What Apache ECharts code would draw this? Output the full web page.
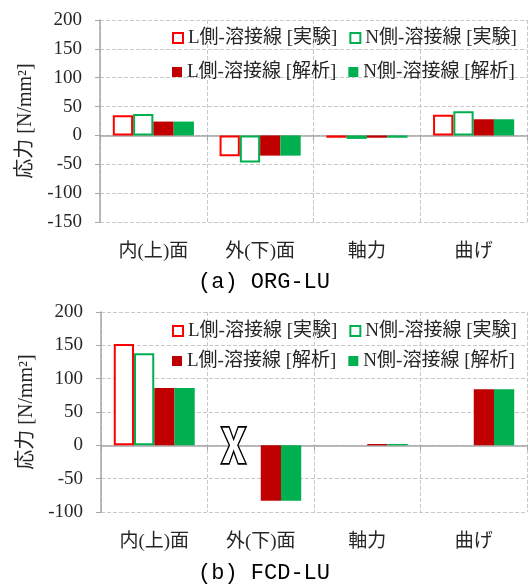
<!DOCTYPE html>
<html><head><meta charset="utf-8">
<script src="https://cdn.jsdelivr.net/npm/echarts@6/dist/echarts.min.js"></script>
<style>html,body{margin:0;padding:0;background:#fff}#main{width:528px;height:585px}</style>
</head><body><div id="main"></div>
<script>
const categories = ['内(上)面', '外(下)面', '軸力', '曲げ'];
const seriesNames = ['L側-溶接線 [実験]', 'N側-溶接線 [実験]', 'L側-溶接線 [解析]', 'N側-溶接線 [解析]'];
// (a) ORG-LU
const orgLExp = [35, -36, -4, 36];
const orgNExp = [37, -47, -6, 42];
const orgLAna = [24, -35, -4, 28];
const orgNAna = [24, -35, -4, 28];
// (b) FCD-LU
const fcdLExp = [152, null, null, null];
const fcdNExp = [138, null, null, null];
const fcdLAna = [86, -83, 2, 84];
const fcdNAna = [86, -83, 2, 84];
// 外(下)面 experimental value missing (X mark)
const fcdMissingCategory = '外(下)面';
const yTicksA = { min: -150, max: 200, interval: 50 };
const yTicksB = { min: -100, max: 200, interval: 50 };
const subtitles = ['(a) ORG-LU', '(b) FCD-LU'];
const yName = '応力 [N/mm²]';

const FONT = "'Liberation Serif', 'Noto Sans CJK JP', serif";
const TXT = '#262626';
const AXIS = '#a6a6a6';
const GRIDC = '#c8c8c8';
const RED = '#ff0000', GREEN = '#00b050', DRED = '#c00000';

const styles = [
  { color: '#ffffff', borderColor: RED, borderWidth: 2 },
  { color: '#ffffff', borderColor: GREEN, borderWidth: 2 },
  { color: DRED },
  { color: GREEN }
];

function legend(names, idxs, top) {
  return {
    left: 172, top: top, padding: 0, itemGap: 12, itemWidth: 10, itemHeight: 10,
    icon: 'rect', selectedMode: false,
    textStyle: { fontFamily: FONT, fontSize: 19, color: TXT, lineHeight: 20 },
    data: idxs.map(i => ({ name: names[i], itemStyle: i < 2 ? { color: '#fff', borderColor: styles[i].borderColor, borderWidth: 2 } : { color: styles[i].color } }))
  };
}

const grids = [
  { left: 100, top: 20, width: 427, height: 202 },
  { left: 101, top: 312, width: 426, height: 200 }
];

function xAxes(gi) {
  return [
    { type: 'category', data: categories, gridIndex: gi, position: 'bottom',
      axisLine: { show: true, onZero: true, lineStyle: { color: AXIS, width: 1.5 } },
      axisTick: { show: true, length: 5, lineStyle: { color: AXIS } },
      axisLabel: { show: false },
      splitLine: { show: true, lineStyle: { color: GRIDC, type: [4, 2], width: 1 } } },
    { type: 'category', data: categories, gridIndex: gi, position: 'bottom',
      axisLine: { show: false, onZero: false }, axisTick: { show: false },
      splitLine: { show: false },
      axisLabel: { fontFamily: FONT, fontSize: 19, color: TXT, margin: 21 } }
  ];
}
function yAxis(gi, t) {
  return { type: 'value', gridIndex: gi, min: t.min, max: t.max, interval: t.interval,
    name: yName, nameLocation: 'middle', nameGap: 64,
    nameTextStyle: { fontFamily: FONT, fontSize: 20, color: TXT },
    axisLine: { show: true, lineStyle: { color: AXIS, width: 1.5 } },
    axisTick: { show: true, length: 5, lineStyle: { color: AXIS } },
    axisLabel: { fontFamily: FONT, fontSize: 19, color: TXT, margin: 18 },
    splitLine: { show: true, lineStyle: { color: GRIDC, type: [4, 2], width: 1 } } };
}

function barSeries(gi, xi, datas) {
  return datas.map((d, i) => ({
    type: 'bar', name: seriesNames[i], xAxisIndex: xi, yAxisIndex: gi, data: d,
    barGap: '0%', barCategoryGap: '24%', itemStyle: styles[i], emphasis: { disabled: true },
    animation: false
  }));
}

const sA = barSeries(0, 0, [orgLExp, orgNExp, orgLAna, orgNAna]);
const sB = barSeries(1, 2, [fcdLExp, fcdNExp, fcdLAna, fcdNAna]);
sB[1].markPoint = {
  silent: true, animation: false,
  data: [{
    coord: [fcdMissingCategory, 0],
    symbol: 'path://M0 0 L32 0 L50 34 L68 0 L100 0 L67 50 L100 100 L68 100 L50 66 L32 100 L0 100 L33 50 Z',
    symbolSize: [25, 37], symbolOffset: [-17, 0],
    itemStyle: { color: '#ffffff', borderColor: '#000000', borderWidth: 1.5 },
    label: { show: false }
  }]
};
sB[1].z = 5;

const chart = echarts.init(document.getElementById('main'), null, { renderer: 'canvas' });
chart.setOption({
  animation: false,
  backgroundColor: '#fff',
  title: [
    { text: subtitles[0], left: 'center', top: 266, textStyle: { fontFamily: "'Liberation Mono', monospace", fontSize: 22, fontWeight: 'normal', color: '#000' } },
    { text: subtitles[1], left: 'center', top: 557, textStyle: { fontFamily: "'Liberation Mono', monospace", fontSize: 22, fontWeight: 'normal', color: '#000' } }
  ],
  legend: [
    legend(seriesNames, [0, 1], 28),
    legend(seriesNames, [2, 3], 62),
    legend(seriesNames, [0, 1], 321),
    legend(seriesNames, [2, 3], 351)
  ],
  grid: grids,
  xAxis: [...xAxes(0), ...xAxes(1)],
  yAxis: [yAxis(0, yTicksA), yAxis(1, yTicksB)],
  series: [...sA, ...sB]
});
</script></body></html>
